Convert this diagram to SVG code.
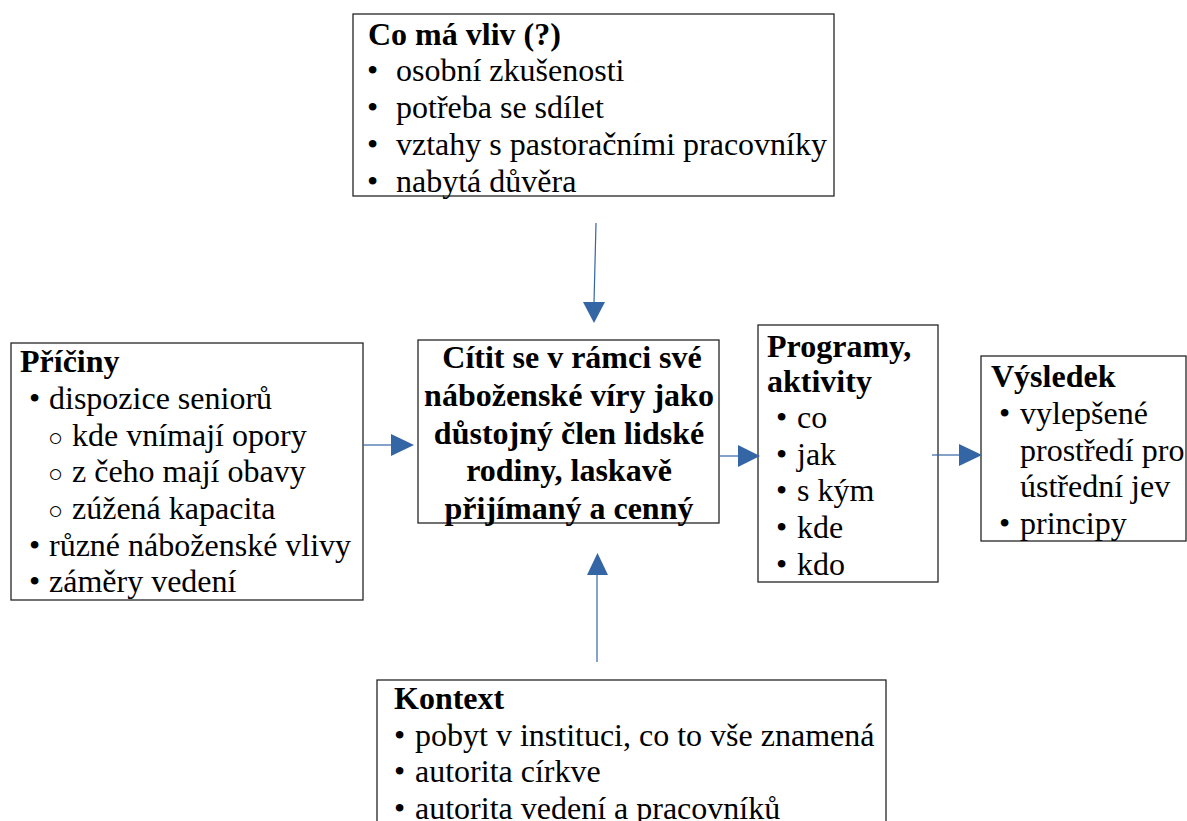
<svg xmlns="http://www.w3.org/2000/svg" width="1187" height="821" viewBox="0 0 1187 821">
<style>
.box{fill:#fff;stroke:#262626;stroke-width:1.3}
text{font-family:"Times New Roman","Liberation Serif",Tinos,serif;font-size:32px;font-weight:normal;fill:#000}
.b{font-weight:bold}
.c{text-anchor:middle}
.o{font-size:25px}
.conn line{stroke:#3465a4;stroke-width:1.2}
.conn polygon{fill:#3465a4}
</style>
<rect width="1187" height="821" fill="#fff"/>
<g id="node-vliv">
<rect class="box" x="353" y="14" width="481" height="182"/>
<text class="b" x="368" y="45">Co má vliv (?)</text>
<text x="367" y="81">•</text><text x="396" y="81">osobní zkušenosti</text>
<text x="367" y="118">•</text><text x="396" y="118">potřeba se sdílet</text>
<text x="367" y="155">•</text><text x="396" y="155">vztahy s pastoračními pracovníky</text>
<text x="367" y="192">•</text><text x="396" y="192">nabytá důvěra</text>
</g>
<g id="node-priciny">
<rect class="box" x="11" y="343" width="352" height="257"/>
<text class="b" x="20" y="372">Příčiny</text>
<text x="29" y="409">•</text><text x="49" y="409">dispozice seniorů</text>
<text class="o" x="48" y="446">○</text><text x="72" y="446">kde vnímají opory</text>
<text class="o" x="48" y="482">○</text><text x="72" y="482">z čeho mají obavy</text>
<text class="o" x="48" y="519">○</text><text x="72" y="519">zúžená kapacita</text>
<text x="29" y="556">•</text><text x="49" y="556">různé náboženské vlivy</text>
<text x="29" y="592">•</text><text x="49" y="592">záměry vedení</text>
</g>
<g id="node-center">
<rect class="box" x="418" y="340" width="301" height="183"/>
<text class="b c" x="572" y="368">Cítit se v rámci své</text>
<text class="b c" x="569" y="406">náboženské víry jako</text>
<text class="b c" x="569" y="444">důstojný člen lidské</text>
<text class="b c" x="569" y="481">rodiny, laskavě</text>
<text class="b c" x="569" y="519">přijímaný a cenný</text>
</g>
<g id="node-programy">
<rect class="box" x="758" y="325" width="180" height="257"/>
<text class="b" x="767" y="357">Programy,</text>
<text class="b" x="767" y="392">aktivity</text>
<text x="776" y="428">•</text><text x="797" y="428">co</text>
<text x="776" y="465">•</text><text x="797" y="465">jak</text>
<text x="776" y="501">•</text><text x="797" y="501">s kým</text>
<text x="776" y="538">•</text><text x="797" y="538">kde</text>
<text x="776" y="575">•</text><text x="797" y="575">kdo</text>
</g>
<g id="node-vysledek">
<rect class="box" x="981" y="356" width="205" height="185"/>
<text class="b" x="991" y="387">Výsledek</text>
<text x="999" y="424">•</text><text x="1020" y="424">vylepšené</text>
<text x="1020" y="461">prostředí pro</text>
<text x="1020" y="497">ústřední jev</text>
<text x="999" y="534">•</text><text x="1020" y="534">principy</text>
</g>
<g id="node-kontext">
<rect class="box" x="377" y="680" width="509" height="160"/>
<text class="b" x="394" y="709">Kontext</text>
<text x="394" y="746">•</text><text x="415" y="746">pobyt v instituci, co to vše znamená</text>
<text x="394" y="782">•</text><text x="415" y="782">autorita církve</text>
<text x="394" y="819">•</text><text x="415" y="819">autorita vedení a pracovníků</text>
</g>
<g class="conn" id="connectors">
<line x1="596" y1="223" x2="594" y2="303"/>
<polygon points="583,302 605,302 594,323"/>
<line x1="597" y1="662" x2="597" y2="574"/>
<polygon points="587,575 608,575 597.5,553"/>
<line x1="363" y1="445" x2="392" y2="445"/>
<polygon points="391,434 391,456 414,445"/>
<line x1="720" y1="456" x2="739" y2="456"/>
<polygon points="738,445 738,467 760,456"/>
<line x1="932" y1="455" x2="960" y2="455"/>
<polygon points="959,444 959,466 982,455"/>
</g>
</svg>
